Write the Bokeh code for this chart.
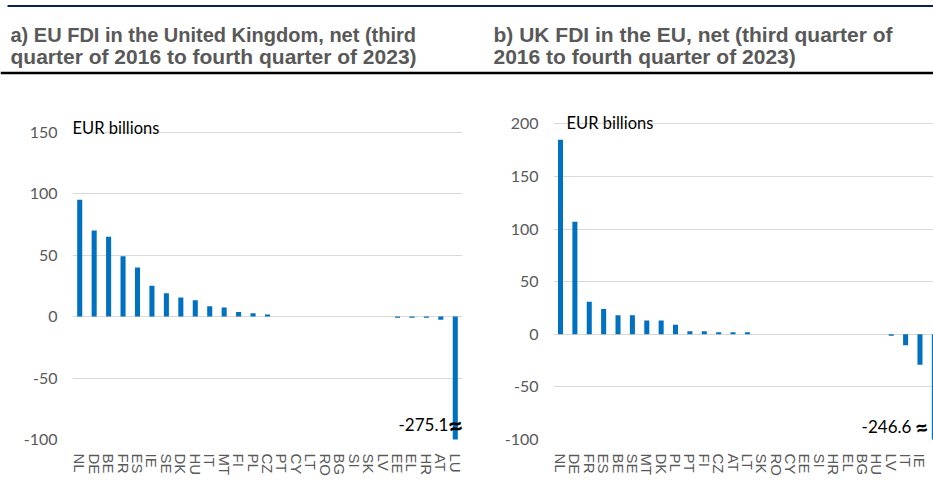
from bokeh.plotting import figure
from bokeh.layouts import column, row
from bokeh.models import Range1d, FactorRange, FixedTicker, Label
from bokeh.embed import file_html
from bokeh.resources import INLINE
from bokeh.core.properties import value

# ---------------- data ----------------
countries_a = ["NL", "DE", "BE", "FR", "ES", "IE", "SE", "DK", "HU", "IT", "MT", "FI", "PL", "CZ",
               "PT", "CY", "LT", "RO", "BG", "SI", "SK", "LV", "EE", "EL", "HR", "AT", "LU"]
values_a = [95, 70, 65, 49, 40, 25, 19, 15.5, 13.3, 8.5, 7.3, 3.8, 2.7, 1.6,
            0, 0, 0, 0, 0, 0, 0, 0, -1, -1, -1, -2.5, -275.1]

countries_b = ["NL", "DE", "FR", "ES", "BE", "SE", "MT", "DK", "PL", "PT", "FI", "CZ", "AT", "LT",
               "SK", "RO", "CY", "EE", "SI", "HR", "EL", "BG", "HU", "LV", "IT", "IE", "LU"]
values_b = [185, 107, 31, 24, 18, 18, 13, 13, 9, 3, 3, 2, 2, 2,
            0, 0, 0, 0, 0, 0, 0, 0, 0, -1.5, -10.5, -29, -246.6]

ticks_a = [-100, -50, 0, 50, 100, 150]
ticks_b = [-100, -50, 0, 50, 100, 150, 200]

title_a = ["a) EU FDI in the United Kingdom, net (third",
           "quarter of 2016 to fourth quarter of 2023)"]
title_b = ["b) UK FDI in the EU, net (third quarter of",
           "2016 to fourth quarter of 2023)"]
unit_label = "EUR billions"

BAR = "#0070C0"
GRID = "#D9D9D9"
TICK_TXT = "#595959"

# ---------------- header ----------------
W = 933
HH = 80
hdr = figure(width=W, height=HH, x_range=Range1d(0, W), y_range=Range1d(HH, 0),
             output_backend="svg", toolbar_location=None, min_border=0)
hdr.axis.visible = False
hdr.grid.visible = False
hdr.outline_line_color = None
hdr.segment(x0=[7, 0], y0=[5.5, 72.5], x1=[W, W], y1=[5.5, 72.5],
            line_color=["#0b1f51", "#000000"], line_width=[2, 2.5])
hdr.text(x=[10, 10, 493, 493], y=[34, 56, 34, 56], text=title_a + title_b,
         text_font=value("Liberation Sans"), text_font_style="bold",
         text_font_size=["20px", "21px", "21px", "21px"],
         text_color=TICK_TXT, text_baseline="alphabetic")


def style(p, ticks):
    p.outline_line_color = None
    p.xgrid.visible = False
    p.ygrid.grid_line_color = GRID
    p.ygrid.grid_line_width = 1
    p.yaxis.ticker = FixedTicker(ticks=ticks, minor_ticks=[])
    p.yaxis.major_label_overrides = {t: str(t) for t in ticks}
    for ax in (p.xaxis, p.yaxis):
        ax.axis_line_color = None
        ax.major_tick_line_color = None
        ax.minor_tick_line_color = None
        ax.major_tick_out = 0
        ax.major_tick_in = 0
        ax.minor_tick_out = 0
        ax.minor_tick_in = 0
        ax.major_label_text_color = TICK_TXT
    p.yaxis.major_label_text_font = "Lato"
    p.yaxis.major_label_text_font_size = "16px"
    p.yaxis.major_label_standoff = 15
    p.xaxis.major_label_text_font = "Liberation Sans"
    p.xaxis.major_label_text_font_size = "15px"
    p.xaxis.major_label_orientation = "vertical"
    p.xaxis.major_label_standoff = 14


CH = 482 - HH
TOP, BOTTOM = 20, 43

# ---------------- chart a ----------------
pa = figure(width=480, height=CH,
            x_range=FactorRange(factors=countries_a, range_padding=0),
            y_range=Range1d(-100, 175.8),
            output_backend="svg", toolbar_location=None,
            min_border_left=72, min_border_right=18, min_border_top=TOP, min_border_bottom=BOTTOM)
style(pa, ticks_a)
pa.vbar(x=countries_a, top=values_a, bottom=0, width=0.35, fill_color=BAR, line_color=None)
pa.add_layout(Label(x=0, y=ticks_a[-1], x_offset=0, y_offset=4, text=unit_label,
                    text_font="Lato", text_font_size="16.5px", text_color="#000000",
                    text_baseline="alphabetic"))
lu_a = countries_a.index("LU") + 0.5
pa.add_layout(Label(x=lu_a, y=-88, x_offset=-7, text=f"{values_a[-1]:.1f}",
                    text_font="Lato", text_font_size="17px", text_color="#000000",
                    text_align="right", text_baseline="middle"))
pa.add_layout(Label(x=lu_a, y=-88, x_offset=0, text="\u2248", text_font="Lato",
                    text_font_style="bold", text_font_size="28px", text_color="#000000",
                    text_align="center", text_baseline="middle", angle=0.2))

# ---------------- chart b ----------------
idx_b = list(range(len(countries_b)))
pb = figure(width=W - 480, height=CH,
            x_range=Range1d(-0.487, 25.94),
            y_range=Range1d(-100, 222.2),
            output_backend="svg", toolbar_location=None,
            min_border_left=73, min_border_right=0, min_border_top=TOP, min_border_bottom=BOTTOM)
style(pb, ticks_b)
pb.xaxis.ticker = FixedTicker(ticks=idx_b, minor_ticks=[])
pb.xaxis.major_label_overrides = {i: c for i, c in zip(idx_b, countries_b)}
pb.vbar(x=idx_b, top=values_b, bottom=0, width=0.35, fill_color=BAR, line_color=None)
pb.add_layout(Label(x=-0.487, y=ticks_b[-1], x_offset=13, y_offset=1, text=unit_label,
                    text_font="Lato", text_font_size="16.5px", text_color="#000000",
                    text_baseline="alphabetic"))
lu_b = countries_b.index("LU")
pb.add_layout(Label(x=lu_b, y=-88, x_offset=-23, text=f"{values_b[-1]:.1f}",
                    text_font="Lato", text_font_size="17px", text_color="#000000",
                    text_align="right", text_baseline="middle"))
pb.add_layout(Label(x=lu_b, y=-88, x_offset=-13, text="\u2248", text_font="Lato",
                    text_font_style="bold", text_font_size="24px", text_color="#000000",
                    text_align="center", text_baseline="middle", angle=0.2))

layout = column(hdr, row(pa, pb))
open("out.html", "w").write(file_html(layout, INLINE))
